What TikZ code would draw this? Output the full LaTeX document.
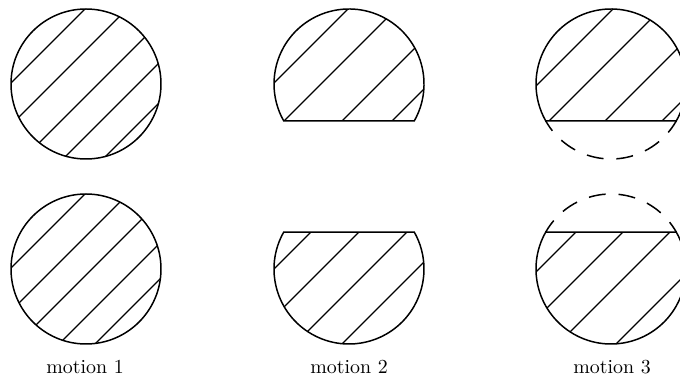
\documentclass[tikz,border=0pt]{standalone}
\usepackage{tikz}
\usetikzlibrary{positioning}

% 45 degree hatching through a centre, one line per offset
\newcommand{\hatchset}[2]{%
  \foreach \off in {#2}
    \draw [hatch] ([shift={({(\off)/2-95},{-(\off)/2-95})}]#1) -- ++(190,190);%
}
% circle cut by a chord: part above / part below
\newcommand{\capabove}[1]{([shift={(-29.5:75)}]#1) arc [start angle=-29.5, end angle=209.5, radius=75] -- cycle}
\newcommand{\capbelow}[1]{([shift={(150.5:75)}]#1) arc [start angle=150.5, end angle=389.5, radius=75] -- cycle}

\begin{document}
\begin{tikzpicture}[
        x=0.017647cm, y=0.017647cm,
        outline/.style={draw, line width=0.75pt},
        hatch/.style={line width=0.65pt},
        cutline/.style={draw, line width=0.75pt, dash pattern=on 8.5pt off 6.5pt, dash phase=2.5pt},
        caption/.style={anchor=base}
    ]
    \useasboundingbox (0,0) rectangle (680,379);

    \coordinate (a1) at (86,295);
    \coordinate (a2) at (86,110);
    \coordinate (b1) at (349,295);
    \coordinate (b2) at (349,110);
    \coordinate (c1) at (611,295);
    \coordinate (c2) at (611,110);

    % motion 1
    \begin{scope}
        \clip (a1) circle [radius=75];
        \hatchset{a1}{-76,-34,12,52,92}
    \end{scope}
    \draw [outline] (a1) circle [radius=75];
    \begin{scope}
        \clip (a2) circle [radius=75];
        \hatchset{a2}{-76,-33,6,48,84}
    \end{scope}
    \draw [outline] (a2) circle [radius=75];

    % motion 2
    \begin{scope}
        \clip \capabove{b1};
        \hatchset{b1}{-76,-28,30,80}
    \end{scope}
    \draw [outline] \capabove{b1};
    \begin{scope}
        \clip \capbelow{b2};
        \hatchset{b2}{-75,-27,21,68}
    \end{scope}
    \draw [outline] \capbelow{b2};

    % motion 3
    \begin{scope}
        \clip \capabove{c1};
        \hatchset{c1}{-73,-25,31,88}
    \end{scope}
    \draw [outline] \capabove{c1};
    \draw [cutline] ([shift={(209.5:75)}]c1) arc [start angle=209.5, end angle=330.5, radius=75];
    \begin{scope}
        \clip \capbelow{c2};
        \hatchset{c2}{-72,-25,22,80}
    \end{scope}
    \draw [outline] \capbelow{c2};
    \draw [cutline] ([shift={(29.5:75)}]c2) arc [start angle=29.5, end angle=150.5, radius=75];

    \node [caption] (lab1) at (85,5) {motion 1};
    \node [caption] (lab2) at (349,5) {motion 2};
    \node [caption] (lab3) at (612,5) {motion 3};
\end{tikzpicture}
\end{document}
